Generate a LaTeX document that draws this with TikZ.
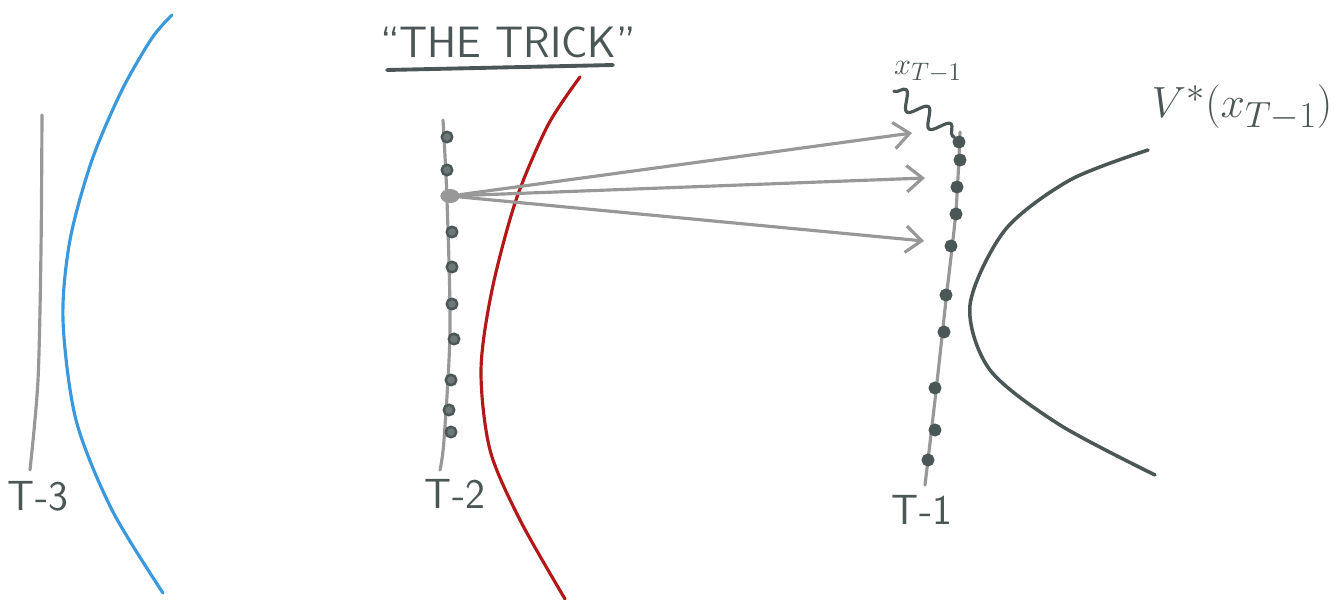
\documentclass[tikz,border=0pt]{standalone}
\usepackage{fontspec}
\usetikzlibrary{arrows.meta,decorations.pathmorphing,positioning,shapes.geometric}
\definecolor{slate}{RGB}{75,86,86}
\definecolor{pencil}{RGB}{152,152,152}
\definecolor{sky}{RGB}{58,152,220}
\definecolor{crimson}{RGB}{178,24,24}

\begin{document}
\begin{tikzpicture}[x=.02cm,y=-.02cm,line cap=round,line join=round,
  stroke/.style={line width=1.8pt},
  dot/.style={circle,draw=slate,fill=slate!80,line width=1.4pt,inner sep=0pt,minimum size=6pt},
  lbl/.style={text=slate,font=\sffamily\fontsize{24}{28}\selectfont},
  hop/.style={pencil,line width=1.8pt,-{Straight Barb[length=9pt,width=15pt,line width=1.8pt]}}]
\useasboundingbox (0,0) rectangle (1335,599);
% time step T-3
\draw[pencil,stroke] plot[smooth] coordinates {(42,115) (41,250) (38,380) (30,470)};
\node[lbl] (t3) at (38,496) {T-3};
\draw[sky,stroke] plot[smooth] coordinates {(172,15) (152,38) (122,90) (92,160) (70,240) (63,320) (76,420) (112,510) (163,593)};
% title
\node[lbl,font=\sffamily\fontsize{25}{28}\selectfont] (title) at (508,42) {``THE TRICK''};
\draw[slate,line width=2.2pt] (387,70) -- (613,65);
% time step T-2
\draw[crimson,stroke] plot[smooth] coordinates {(580,77) (548,125) (516,200) (492,290) (481,370) (490,450) (520,520) (565,599)};
\draw[pencil,stroke] plot[smooth] coordinates {(443,120) (447,200) (450,330) (444,440) (440,470)};
\foreach \y/\x [count=\i] in {137/447,170/447,232/452,267/452,304/452,339/454,380/451,410/449,432/451}
  \node[dot] (d2-\i) at (\x,\y) {};
\node[ellipse,fill=pencil,inner sep=0pt,minimum width=11pt,minimum height=8pt] (src) at (450,196) {};
\node[lbl] (t2) at (455,494) {T-2};
% time step T-1
\draw[pencil,stroke] plot[smooth] coordinates {(960,132) (956,210) (946,300) (935,400) (925,485)};
\foreach \y/\x [count=\i] in {142/959,160/960,187/957,214/956,246/951,295/946,332/944,388/935,430/935,460/928}
  \node[dot,fill=slate] (d1-\i) at (\x,\y) {};
\node[lbl] (t1) at (922,510) {T-1};
\node[text=slate,font=\fontsize{19}{22}\selectfont] (xlbl) at (928,72) {$x_{T-1}$};
\draw[slate,line width=1.8pt,decorate,decoration={snake,segment length=16pt,amplitude=5pt}]
  (xlbl.south west) ++(6,2) coordinate (sq) (sq) -- (d1-1.north west);
% the three jumps
\coordinate (a1) at (912,133);
\coordinate (a2) at (925,178);
\coordinate (a3) at (924,241);
\draw[hop] (src) -- (a1);
\draw[hop] (src) -- (a2);
\draw[hop] (src) -- (a3);
% value function
\draw[slate,line width=2pt] plot[smooth] coordinates {(1148,150) (1070,180) (1005,230) (970,305) (990,370) (1060,425) (1155,475)};
\node[text=slate,font=\fontsize{30}{34}\selectfont] (vstar) at (1242,108) {$V^*(x_{T-1})$};
\end{tikzpicture}
\end{document}
